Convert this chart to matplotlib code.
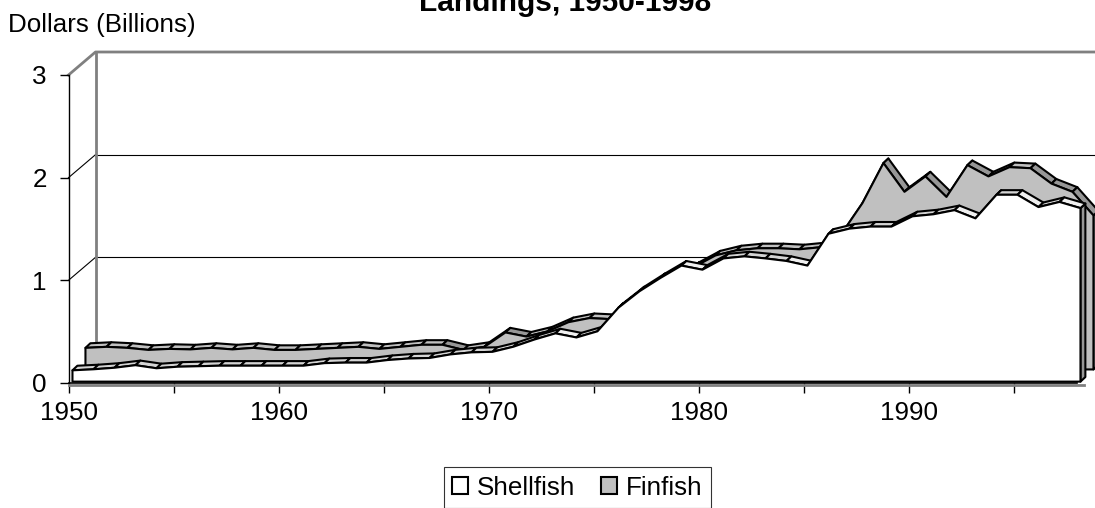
import matplotlib.pyplot as plt
from matplotlib.patches import Polygon, Patch

plt.rcParams['font.family'] = ['Liberation Sans', 'DejaVu Sans']

# values in billions of dollars
years = list(range(1950, 1999))
shellfish = [0.11, 0.12, 0.135, 0.16, 0.13, 0.145, 0.15, 0.155, 0.155, 0.155,
             0.155, 0.155, 0.18, 0.185, 0.185, 0.21, 0.225, 0.23, 0.265, 0.285,
             0.29, 0.34, 0.41, 0.47, 0.43, 0.49, 0.72, 0.88, 1.01, 1.13,
             1.09, 1.20, 1.22, 1.20, 1.175, 1.13, 1.44, 1.49, 1.51, 1.51,
             1.61, 1.63, 1.67, 1.59, 1.82, 1.82, 1.70, 1.75, 1.69]
finfish = [0.21, 0.22, 0.21, 0.19, 0.20, 0.195, 0.21, 0.195, 0.21, 0.19,
           0.19, 0.20, 0.21, 0.22, 0.20, 0.22, 0.24, 0.24, 0.19, 0.22,
           0.36, 0.32, 0.37, 0.46, 0.50, 0.49, 0.62, 0.75, 0.88, 1.00,
           1.11, 1.16, 1.18, 1.18, 1.17, 1.19, 1.32, 1.62, 2.01, 1.73,
           1.88, 1.68, 1.99, 1.88, 1.97, 1.96, 1.81, 1.73, 1.50]
major_years = [1950, 1960, 1970, 1980, 1990]
minor_years = [1955, 1965, 1975, 1985, 1995]
y_ticks = [0, 1, 2, 3]

W, H = 1095, 508
FS = 18.7
fig = plt.figure(figsize=(W / 100, H / 100), dpi=100)
ax = fig.add_axes([68.5 / W, 125 / H, 1008 / W, 308 / H])
ax.set_xlim(1950, 1998)
ax.set_ylim(0, 3)
ax.patch.set_visible(False)

PX_X = 1008 / 48   # pixels per year
PX_Y = 308 / 3     # pixels per billion


def depth(z):
    # oblique offset (in data units) for a depth z between 0 (front) and 1 (back wall)
    return (2.5 + 24.5 * z) / PX_X, 23 * z / PX_Y


# back wall and gridlines
bx, by = depth(1.0)
for v in [1, 2]:
    ax.plot([1950 + bx, 1998 + bx + 1], [v + by, v + by], color='black', lw=0.8,
            clip_on=False, zorder=1)
    ax.plot([1950, 1950 + bx], [v, v + by], color='black', lw=0.8, clip_on=False, zorder=1)
ax.plot([1950, 1950 + bx, 1998 + bx + 1], [3, 3 + by, 3 + by], color='#808080', lw=2,
        clip_on=False, zorder=1)
ax.plot([1950 + bx, 1950 + bx], [by, 3 + by], color='#808080', lw=2, clip_on=False, zorder=1)


def draw_area(vals, z0, z1, face, top_flat, top_down, end_face, zo):
    fx, fy = depth(z0)
    kx, ky = depth(z1)
    kw = dict(ec='black', lw=1.5, joinstyle='round', clip_on=False)
    xe = years[-1]
    ax.add_patch(Polygon([(xe + fx, fy), (xe + fx, vals[-1] + fy),
                          (xe + kx, vals[-1] + ky), (xe + kx, ky)],
                         fc=end_face, zorder=zo, **kw))
    for i in range(len(years) - 1):
        x1, x2 = years[i], years[i + 1]
        v1, v2 = vals[i], vals[i + 1]
        col = top_down if v2 < v1 - 0.03 else top_flat
        ax.add_patch(Polygon([(x1 + fx, v1 + fy), (x2 + fx, v2 + fy),
                              (x2 + kx, v2 + ky), (x1 + kx, v1 + ky)],
                             fc=col, zorder=zo + 0.1, **kw))
    pts = [(years[0] + fx, fy)] + [(x + fx, v + fy) for x, v in zip(years, vals)]
    pts.append((years[-1] + fx, fy))
    ax.add_patch(Polygon(pts, fc=face, zorder=zo + 0.2, **kw))


draw_area(finfish, 0.59, 0.79, '#c0c0c0', '#c0c0c0', '#969696', '#c0c0c0', 3)
draw_area(shellfish, 0.06, 0.26, 'white', '#d4d4d4', '#f0f0f0', '#969696', 4)

# floor edge under the front axis
ax.plot([1950, 1998 + depth(0.2)[0]], [-0.018, -0.018], color='#808080', lw=2,
        clip_on=False, zorder=5)

for s in ['top', 'right']:
    ax.spines[s].set_visible(False)
ax.spines['left'].set_linewidth(1)
ax.spines['bottom'].set_linewidth(1.2)
ax.spines['bottom'].set_zorder(6)

ax.set_xticks(major_years)
ax.set_xticks(minor_years, minor=True)
ax.set_xticklabels([str(y) for y in major_years])
ax.set_yticks(y_ticks)
ax.tick_params(axis='x', which='both', length=7.2, width=1, direction='out', pad=6,
               labelsize=FS)
ax.tick_params(axis='y', length=6.5, width=1, direction='out', pad=9, labelsize=FS)

fig.text(8 / W, 1 - 25 / H, 'Dollars (Billions)', ha='left', va='center', fontsize=FS)
fig.text(565 / W, 1 - 11 / H, 'Landings, 1950-1998', ha='center', va='baseline',
         fontsize=21.5, fontweight='bold')

handles = [Patch(fc='white', ec='black', lw=1.5), Patch(fc='#c0c0c0', ec='black', lw=1.5)]
leg = fig.legend(handles, ['Shellfish', 'Finfish'], loc='upper center',
                 bbox_to_anchor=(577.5 / W, 1 - 467 / H), ncol=2, fontsize=FS,
                 frameon=True, fancybox=False, edgecolor='black',
                 handlelength=0.6, handleheight=0.6, handletextpad=0.35,
                 columnspacing=1.0, borderpad=0.33, borderaxespad=0)
leg.get_frame().set_linewidth(0.8)

fig.savefig('out.png', dpi=100)
